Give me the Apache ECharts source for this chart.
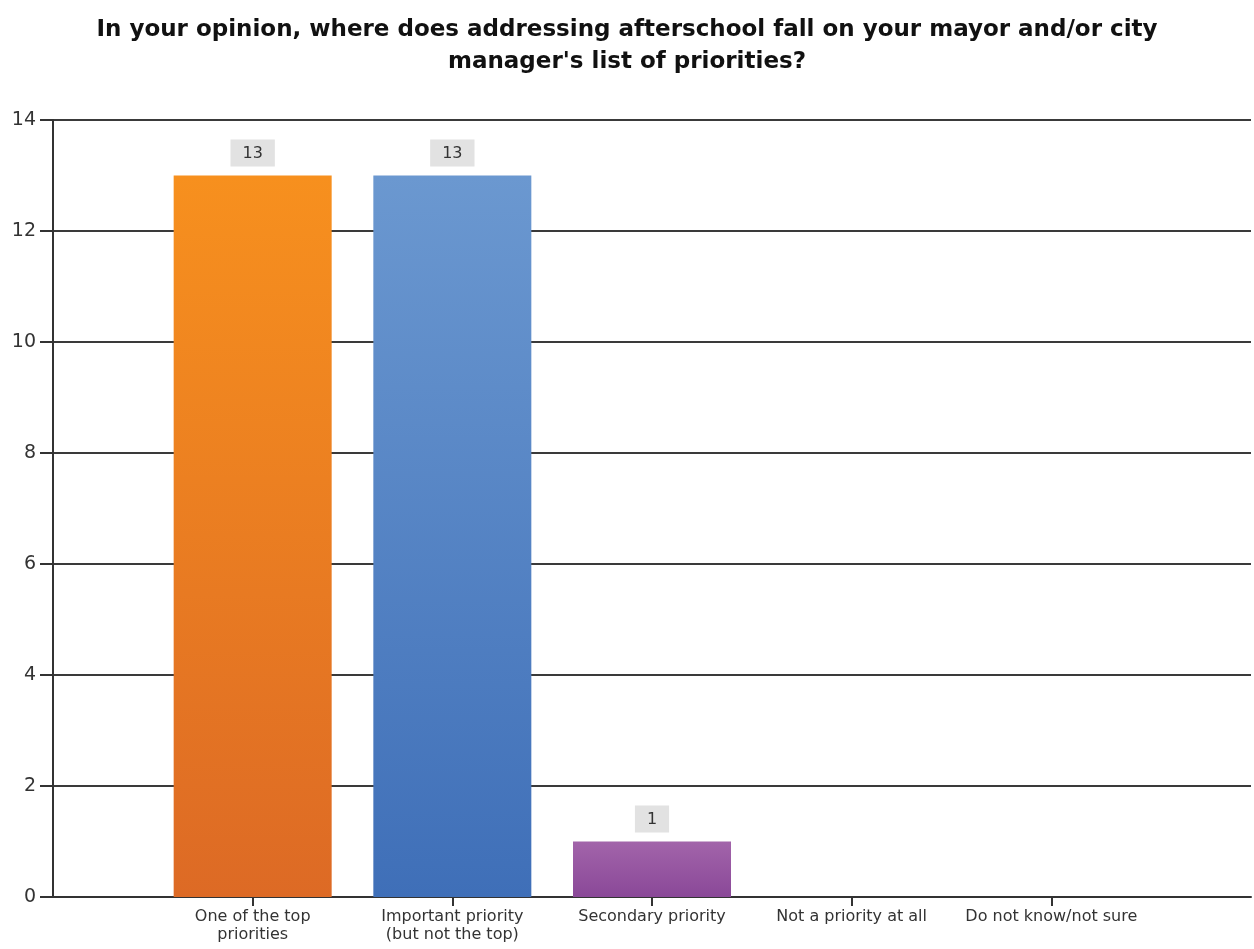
<!DOCTYPE html>
<html><head><meta charset="utf-8">
<script src="https://cdn.jsdelivr.net/npm/echarts@6/dist/echarts.min.js"></script>
<style>html,body{margin:0;padding:0;background:#fff}#c{width:1254px;height:949px}</style>
</head><body><div id="c"></div>
<script>
const titleText = "In your opinion, where does addressing afterschool fall on your mayor and/or city\nmanager's list of priorities?";
const categories = ["", "One of the top\npriorities", "Important priority\n(but not the top)", "Secondary priority", "Not a priority at all", "Do not know/not sure", ""];
const values = [null, 13, 13, 1, 0, 0, null];
const yTicks = { min: 0, max: 14, interval: 2 };
const barColors = [
  null,
  ['#F7901E', '#DD6A25'],
  ['#6B98D0', '#3F6FB8'],
  ['#A264AA', '#8A4898'],
  ['#888', '#888'],
  ['#888', '#888'],
  null
];

const chart = echarts.init(document.getElementById('c'));
chart.setOption({
  animation: false,
  title: {
    text: titleText, left: 'center', top: 9,
    textStyle: { fontFamily: 'DejaVu Sans', fontSize: 23, fontWeight: 'bold', color: '#111', lineHeight: 32 }
  },
  grid: { left: 53, right: 0, top: 120, bottom: 52, containLabel: false },
  xAxis: {
    type: 'category', data: categories, boundaryGap: false,
    axisLine: { lineStyle: { color: '#333', width: 2 } },
    axisTick: { length: 9, lineStyle: { color: '#333', width: 2 },
      interval: (i, v) => v !== '' },
    axisLabel: { interval: 0, fontFamily: 'DejaVu Sans', fontSize: 16, color: '#333', lineHeight: 18, margin: 11,
      formatter: v => v },
    splitLine: { show: false }
  },
  yAxis: {
    type: 'value', min: yTicks.min, max: yTicks.max, interval: yTicks.interval,
    axisLine: { show: true, lineStyle: { color: '#333', width: 2 } },
    axisTick: { show: true, length: 13, lineStyle: { color: '#333', width: 2 } },
    axisLabel: { fontFamily: 'DejaVu Sans', fontSize: 19, color: '#333', margin: 17 },
    splitLine: { show: true, lineStyle: { color: '#3a3a3a', width: 2 } }
  },
  series: [{
    type: 'bar', barWidth: 158,
    data: values.map((v, i) => ({
      value: v,
      itemStyle: barColors[i] ? { color: new echarts.graphic.LinearGradient(0, 0, 0, 1, [
        { offset: 0, color: barColors[i][0] }, { offset: 1, color: barColors[i][1] }]) } : {},
      label: { show: v > 0 }
    })),
    label: {
      show: true, position: 'top', distance: 9,
      fontFamily: 'DejaVu Sans', fontSize: 16, color: '#333',
      backgroundColor: '#E2E2E2', padding: [6, 12, 5, 12]
    }
  }]
});
</script></body></html>
